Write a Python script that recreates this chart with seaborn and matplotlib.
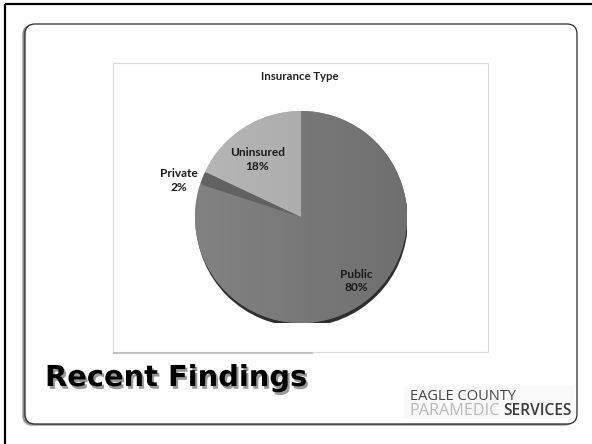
import matplotlib
matplotlib.use("Agg")
import matplotlib.pyplot as plt
import matplotlib.patches as mpatches
import matplotlib.patheffects as pe
import numpy as np
import seaborn as sns

# ---- data ----
chart_title = "Insurance Type"
categories = ["Uninsured", "Private", "Public"]
shares = [18, 2, 80]
heading = "Recent Findings"
logo_line1 = "EAGLE COUNTY"
logo_line2a = "PARAMEDIC"
logo_line2b = "SERVICES"

sns.set_theme(style="white")
plt.rcParams['font.family'] = ['Lato', 'DejaVu Sans']

W, H = 592, 444
fig = plt.figure(figsize=(W / 100, H / 100), dpi=100)
fig.patch.set_facecolor('white')
bg = fig.add_axes([0, 0, 1, 1])
bg.set_xlim(0, W)
bg.set_ylim(H, 0)
bg.axis('off')

# outer border (top and left)
bg.plot([5, W], [4, 4], color='black', lw=1.6, solid_capstyle='butt')
bg.plot([5, 5], [4, H], color='black', lw=1.6, solid_capstyle='butt')

# card shadow
for k, a in enumerate([0.06, 0.10, 0.16, 0.22]):
    off = 4 - k
    sh = mpatches.FancyBboxPatch((25 - 2 - off * 0.3, 24 + off * 0.3), 552, 401,
                                 boxstyle="round,pad=0,rounding_size=10",
                                 fc='black', ec='none', alpha=a, lw=0)
    bg.add_patch(sh)
card = mpatches.FancyBboxPatch((25, 24), 552, 400,
                               boxstyle="round,pad=0,rounding_size=10",
                               fc='white', ec='#2a2a2a', lw=0.9)
bg.add_patch(card)

# chart frame
frame = mpatches.Rectangle((113, 63), 375, 289, fc='white', ec='#d9d9d9', lw=0.8)
bg.add_patch(frame)
bg.plot([113, 313], [352.5, 352.5], color='#bdbdbd', lw=1.3, solid_capstyle='butt')

bg.text(300, 77, chart_title, ha='center', va='center', fontsize=8.2,
        fontweight='bold', color='#222222')

# logo background
bg.add_patch(mpatches.Rectangle((404, 386), 170, 33, fc='#f9f9f9', ec='none'))

# pie
cx, cy, r = 301, 217, 106
pax = fig.add_axes([(cx - r) / W, (H - cy - r) / H, 2 * r / W, 2 * r / H])
pax.set_facecolor('none')
pax.patch.set_alpha(0)
pax.add_patch(mpatches.Circle((0.008, -0.035), 1.0, fc='#2e2e2e', ec='none', zorder=0.5))
colors = ['#ababab', '#626262', '#777777']
wedges, _ = pax.pie(shares, colors=colors, startangle=90, counterclock=True, radius=1,
                    wedgeprops=dict(edgecolor='none', linewidth=0))
for w in wedges:
    w.set_zorder(1)

# subtle gradients
grad = np.linspace(1, 0, 256).reshape(1, -1)
for w, (lo, hi) in zip([wedges[0], wedges[2]], [('#a6a6a6', '#b6b6b6'), ('#6f6f6f', '#828282')]):
    cmap = matplotlib.colors.LinearSegmentedColormap.from_list('g', [lo, hi])
    im = pax.imshow(grad, cmap=cmap, extent=[-1, 1, -1, 1], aspect='auto', zorder=1.5,
                    interpolation='bicubic')
    im.set_clip_path(w)

pax.set_xlim(-1, 1)
pax.set_ylim(-1, 1)
pax.set_aspect('equal')
pax.axis('off')

dists = [0.68, 1.2, 0.8]
for w, lab, val, d in zip(wedges, categories, shares, dists):
    ang = np.deg2rad((w.theta1 + w.theta2) / 2 + 5)
    pax.text(d * np.cos(ang), d * np.sin(ang), f"{lab}\n{val}%", ha='center', va='center',
             fontsize=8.6, fontweight='bold', color='#1a1a1a', linespacing=1.3, zorder=3)

# heading
bg.text(45, 386, heading, fontsize=20.8, fontweight='bold', family='DejaVu Sans',
        color='black', va='baseline',
        path_effects=[pe.SimplePatchShadow(offset=(1.5, -2), shadow_rgbFace='#444444', alpha=0.55),
                      pe.Normal()])

# logo
bg.text(410, 400, logo_line1, family='Open Sans', fontsize=10.5, color='#474747', va='baseline')
bg.text(409, 415, logo_line2a, family='Open Sans', fontsize=11.6, color='#b9b9b9', va='baseline')
bg.text(572, 415, logo_line2b, family='Open Sans', fontsize=11.2, fontweight='semibold',
        color='#3a3a3a', va='baseline', ha='right')

fig.savefig('out.png', dpi=100)
